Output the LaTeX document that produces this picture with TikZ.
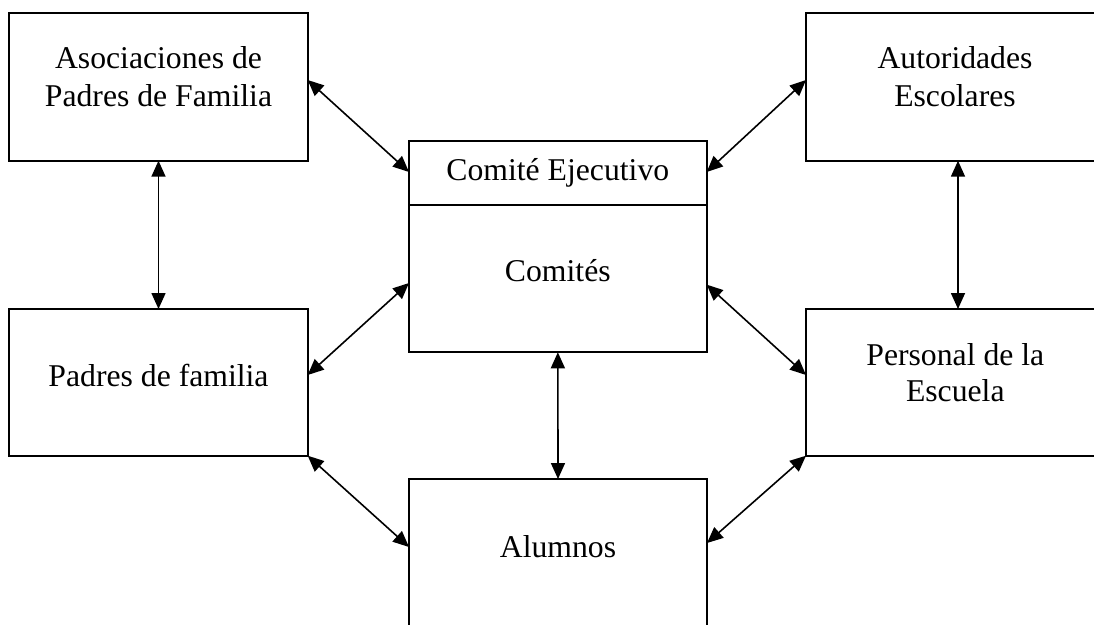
\documentclass[tikz,border=0pt]{standalone}
\usepackage{fontspec}
\setmainfont{Liberation Serif}
\usetikzlibrary{arrows.meta}
\begin{document}
\begin{tikzpicture}[x=1pt,y=-1pt,
  box/.style={draw,line width=1.8pt,anchor=north west,inner sep=0pt,outer sep=0pt},
  lbl/.style={anchor=base,inner sep=0pt,font=\fontsize{31.7}{37}\selectfont},
  arr/.style={line width=1.6pt,{Triangle[length=16pt,width=14pt]}-{Triangle[length=16pt,width=14pt]}}]
\useasboundingbox (0,0) rectangle (1094,624);
\clip (0,0) rectangle (1094,624);
\fill[white] (0,0) rectangle (1094,624);
% boxes
\node[box,minimum width=298.4pt,minimum height=147.7pt] (asoc) at (9.3,13) {};
\node[box,minimum width=298.4pt,minimum height=146.7pt] (padres) at (9.3,309) {};
\node[box,minimum width=304pt,minimum height=147.7pt] (autor) at (806,13) {};
\node[box,minimum width=304pt,minimum height=146.7pt] (personal) at (806,309) {};
\node[box,minimum width=297.7pt,minimum height=211.3pt] (central) at (409,141) {};
\node[box,minimum width=298pt,minimum height=147pt] (alumnos) at (409,479) {};
\coordinate (divl) at (409,205);
\coordinate (divr) at (706.7,205);
\draw[line width=1.8pt] (divl) -- (divr);
% labels
\node[lbl] (t1a) at (158.5,68.3) {Asociaciones de};
\node[lbl] (t1b) at (158.5,106) {Padres de Familia};
\node[lbl] (t2a) at (955,68.3) {Autoridades};
\node[lbl] (t2b) at (955,106) {Escolares};
\node[lbl] (t3) at (557.8,180.7) {Comité Ejecutivo};
\node[lbl] (t4) at (557.8,281.7) {Comités};
\node[lbl] (t5) at (158.5,386) {Padres de familia};
\node[lbl] (t6a) at (955.3,365) {Personal de la};
\node[lbl] (t6b) at (955.3,401.7) {Escuela};
\node[lbl] (t7) at (558,557) {Alumnos};
% connectors
\draw[arr] ([yshift=6.85pt]asoc.east) -- ([yshift=74.65pt]central.west);
\draw[arr] ([yshift=6.85pt]autor.west) -- ([yshift=74.65pt]central.east);
\draw[arr] (asoc.south) -- (padres.north);
\draw[arr] (autor.south) -- (personal.north);
\draw[arr] ([yshift=7.35pt]padres.east) -- ([yshift=-36.35pt]central.west);
\draw[arr] ([yshift=7.35pt]personal.west) -- ([yshift=-38pt]central.east);
\draw[arr] (central.south) -- (alumnos.north);
\draw[arr] (padres.south east) -- ([yshift=5.5pt]alumnos.west);
\draw[arr] (personal.south west) -- ([yshift=9.5pt]alumnos.east);
\end{tikzpicture}
\end{document}
